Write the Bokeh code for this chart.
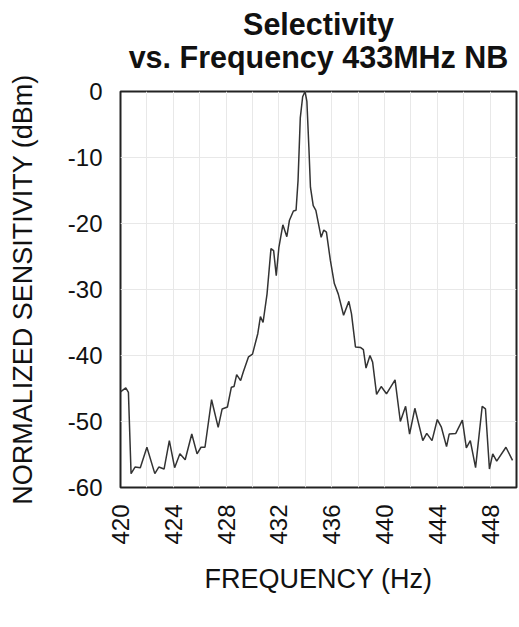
from math import pi
from bokeh.plotting import figure
from bokeh.models import FixedTicker, Range1d, LinearAxis
from bokeh.embed import file_html
from bokeh.resources import INLINE

freq = [420.0, 420.4, 420.6, 420.8, 421.1, 421.5, 422.0, 422.6, 422.9, 423.3,
        423.7, 424.1, 424.5, 424.9, 425.4, 425.8, 426.1, 426.4, 426.9, 427.4,
        427.7, 428.1, 428.4, 428.6, 428.8, 429.1, 429.3, 429.7, 430.0, 430.4,
        430.6, 430.8, 431.1, 431.4, 431.6, 431.8, 432.0, 432.3, 432.6, 432.8,
        433.1, 433.3, 433.45, 433.62, 433.80, 433.98, 434.12, 434.27, 434.39, 434.6,
        434.8, 435.2, 435.4, 435.6, 435.9, 436.2, 436.5, 436.9, 437.3, 437.5,
        437.8, 438.2, 438.4, 438.6, 438.9, 439.1, 439.4, 439.75, 440.15, 440.8,
        441.2, 441.6, 441.9, 442.3, 442.9, 443.2, 443.6, 444.0, 444.3, 444.7,
        444.9, 445.4, 445.9, 446.2, 446.5, 446.9, 447.4, 447.65, 447.95, 448.2,
        448.5, 449.2, 449.7]
sens = [-45.5, -44.9, -45.6, -57.9, -56.9, -57.0, -53.9, -57.9, -56.9, -57.2,
        -52.9, -57.0, -54.9, -55.8, -51.9, -54.9, -53.9, -53.9, -46.7, -50.9,
        -48.1, -47.8, -44.8, -44.7, -42.9, -43.8, -42.5, -40.2, -39.8, -36.7,
        -34.1, -35.0, -30.7, -23.8, -24.1, -27.9, -23.6, -20.2, -22.0, -19.5,
        -18.1, -18.0, -13.5, -4.0, -0.8, 0.0, -1.5, -8.4, -14.5, -17.3,
        -18.0, -22.1, -21.0, -21.3, -25.6, -29.1, -30.7, -33.9, -31.8, -33.7,
        -38.7, -38.8, -39.1, -41.9, -40.0, -41.0, -45.9, -44.7, -45.8, -43.7,
        -50.0, -47.7, -51.9, -48.0, -52.9, -51.8, -52.9, -49.7, -50.8, -53.8,
        -51.9, -51.8, -49.8, -54.0, -52.9, -57.0, -47.7, -48.1, -57.2, -54.9,
        -56.0, -53.9, -55.9]

x_ticks = [420, 424, 428, 432, 436, 440, 444, 448]
x_grid = list(range(420, 451, 2))
y_ticks = [0, -10, -20, -30, -40, -50, -60]
y_tick_labels = ["0", "-10", "-20", "-30", "-40", "-50", "-60"]

title_line1 = "Selectivity"
title_line2 = "vs. Frequency 433MHz NB"
FONT = "Liberation Sans"

p = figure(width=519, height=620, output_backend="svg", toolbar_location=None,
           x_range=Range1d(420, 450), y_range=Range1d(-60, 0),
           min_border_left=120, min_border_right=3, min_border_top=91,
           min_border_bottom=133, background_fill_color="white",
           border_fill_color="white")

p.line(freq, sens, line_color="#333333", line_width=1.5)

p.outline_line_color = "#222222"
p.outline_line_width = 2

p.xaxis.ticker = FixedTicker(ticks=x_ticks)
p.yaxis.ticker = FixedTicker(ticks=y_ticks)
p.yaxis.major_label_overrides = dict(zip(y_ticks, y_tick_labels))
p.xgrid.ticker = FixedTicker(ticks=x_grid)
p.ygrid.ticker = FixedTicker(ticks=y_ticks)
p.grid.grid_line_color = "#e8e8e8"
p.grid.grid_line_width = 1

p.axis.axis_line_color = None
p.axis.major_tick_line_color = None
p.axis.minor_tick_line_color = None
p.axis.major_label_text_font = FONT
p.axis.major_label_text_font_size = "24px"
p.axis.major_label_text_color = "#111111"
p.axis.axis_label_text_font = FONT
p.axis.axis_label_text_font_size = "27px"
p.axis.axis_label_text_font_style = "normal"
p.axis.axis_label_text_color = "#111111"

p.xaxis.major_label_orientation = pi / 2
p.xaxis.major_label_standoff = 11
p.xaxis.axis_label = "FREQUENCY (Hz)"
p.xaxis.axis_label_standoff = 16

p.yaxis.major_label_standoff = 12
p.yaxis.axis_label = "NORMALIZED SENSITIVITY (dBm)"
p.yaxis.axis_label_standoff = 27

# two-line chart title, each line centred over the plot frame
for txt, standoff in ((title_line2, 18), (title_line1, -4)):
    ax = LinearAxis(ticker=FixedTicker(ticks=[]), axis_label=txt,
                    axis_label_standoff=standoff,
                    axis_label_text_font=FONT,
                    axis_label_text_font_size="30.5px",
                    axis_label_text_font_style="bold",
                    axis_label_text_color="#111111",
                    axis_line_color=None, major_tick_line_color=None,
                    minor_tick_line_color=None, major_tick_out=0,
                    major_tick_in=0, minor_tick_out=0, minor_tick_in=0,
                    major_label_standoff=0)
    p.add_layout(ax, "above")

open("out.html", "w").write(file_html(p, INLINE))
